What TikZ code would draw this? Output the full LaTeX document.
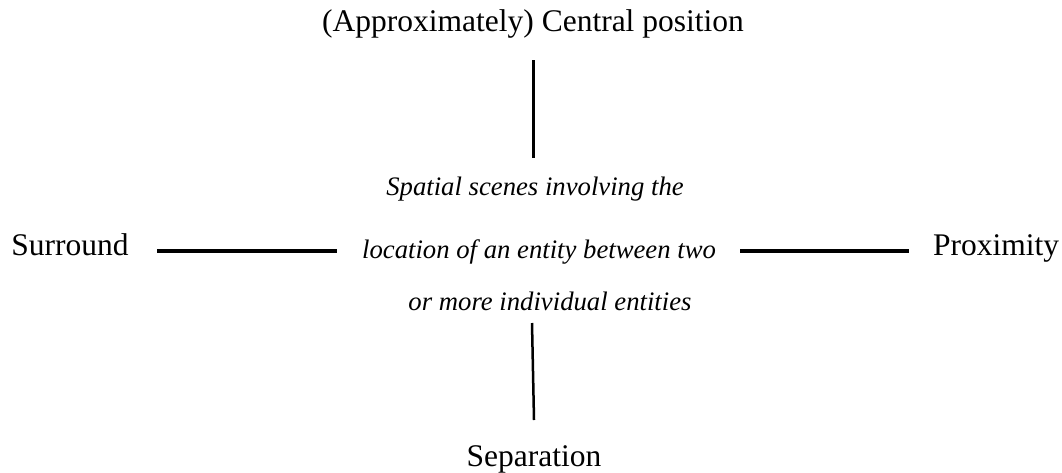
\documentclass[tikz,border=0pt]{standalone}
\usepackage{fontspec}
\setmainfont{Liberation Serif}
\begin{document}
\begin{tikzpicture}[x=1pt,y=-1pt,
  label/.style={inner sep=0pt, font=\fontsize{31.5}{36}\selectfont, anchor=base},
  scene/.style={inner sep=0pt, font=\fontsize{26.7}{31}\selectfont\itshape, anchor=base},
  link/.style={line width=3.5pt}]
\useasboundingbox (0,0) rectangle (1062,472);
% category labels around the centre
\node[label] (top) at (533,31) {(Approximately) Central position};
\node[label] (left) at (70,255) {Surround};
\node[label] (right) at (996,255) {Proximity};
\node[label] (bottom) at (534,466) {Separation};
% centre description, three lines
\node[scene] (c1) at (535,195) {Spatial scenes involving the};
\node[scene] (c2) at (539,258) {location of an entity between two};
\node[scene] (c3) at (550,310) {or more individual entities};
% connectors
\coordinate (t1) at (533,60);
\coordinate (t2) at (533,158);
\coordinate (b1) at (532,323);
\coordinate (b2) at (534,420);
\coordinate (l1) at (157,251);
\coordinate (l2) at (337,251);
\coordinate (r1) at (740,251);
\coordinate (r2) at (909,251);
\draw[line width=3pt] (t1) -- (t2);
\draw[line width=2.5pt] (b1) -- (b2);
\draw[link] (l1) -- (l2);
\draw[link] (r1) -- (r2);
\end{tikzpicture}
\end{document}
